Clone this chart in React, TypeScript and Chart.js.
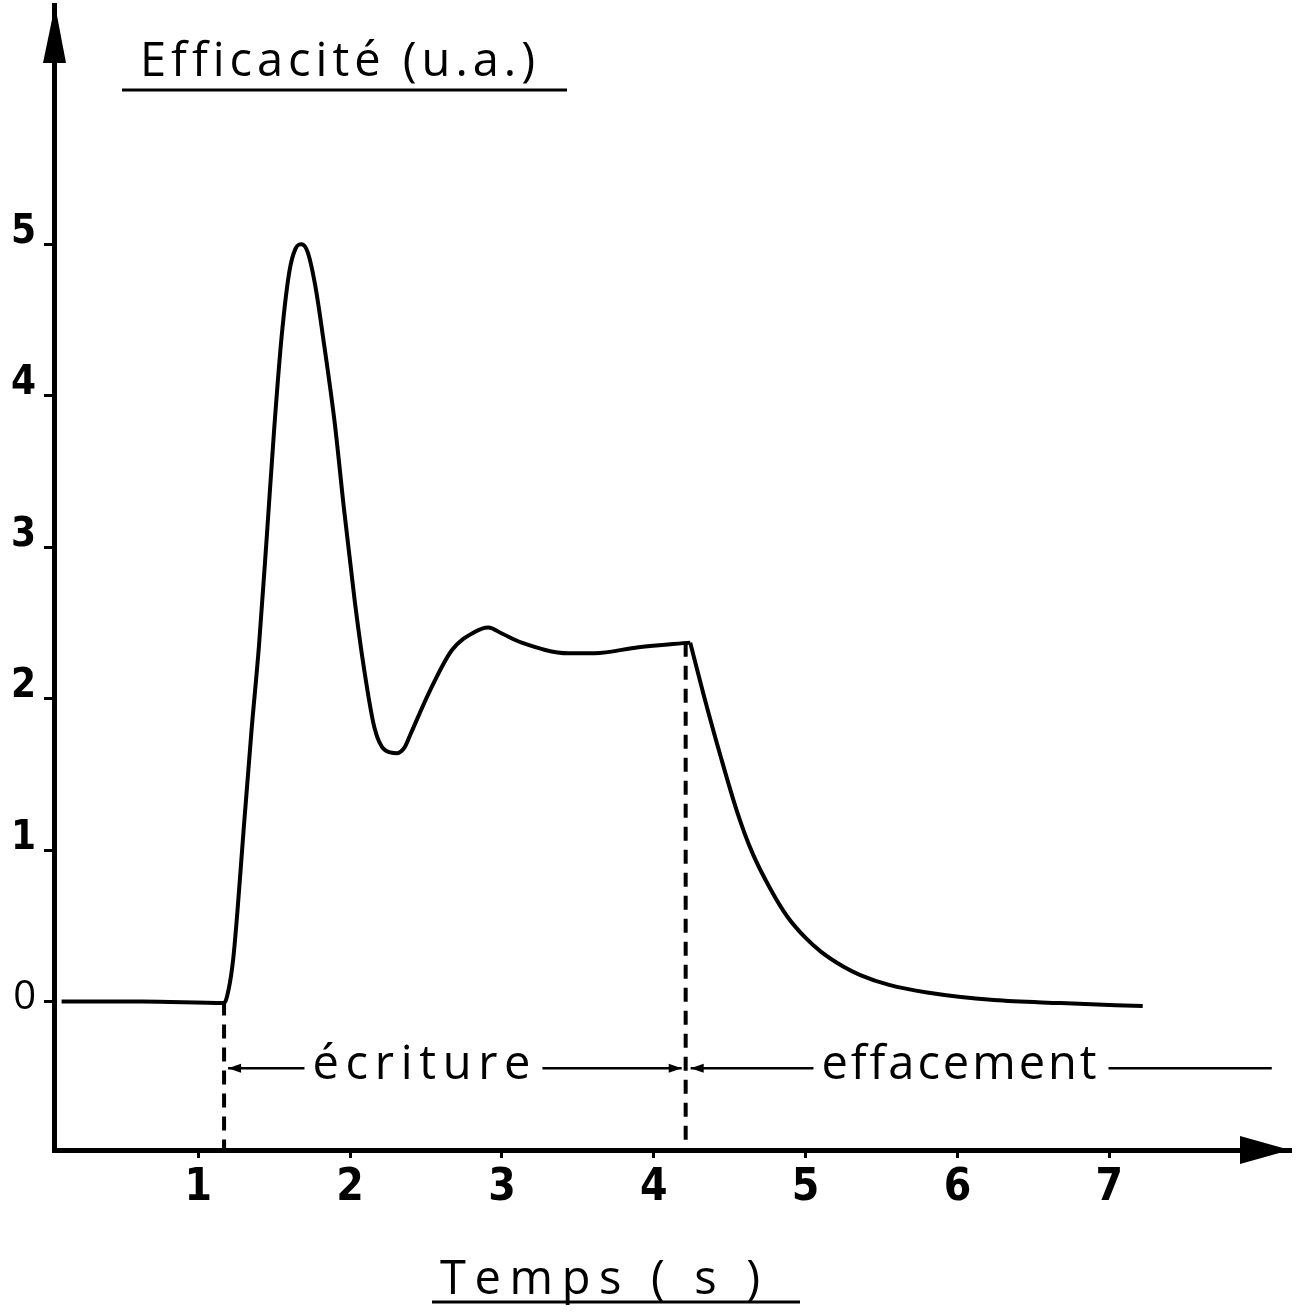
import React, { useEffect, useRef } from "react";
import { Chart, registerables } from "chart.js";

Chart.register(...registerables);

// ---- data (time in s, efficiency in arbitrary units) ----
const writeTimes = [0.10, 0.63, 1.17, 1.20, 1.23, 1.26, 1.30, 1.35, 1.40, 1.45, 1.50, 1.55, 1.60, 1.64, 1.68, 1.72, 1.77, 1.83, 1.90, 1.96, 2.03, 2.09, 2.16, 2.23, 2.31, 2.36, 2.40, 2.52, 2.67, 2.82, 2.91, 3.00, 3.13, 3.44, 3.61, 3.90, 4.24];
const writeValues = [0.00, 0.00, -0.01, 0.08, 0.28, 0.62, 1.15, 1.78, 2.35, 3.05, 3.78, 4.40, 4.82, 4.97, 5.00, 4.95, 4.73, 4.33, 3.81, 3.25, 2.65, 2.21, 1.81, 1.66, 1.64, 1.68, 1.77, 2.04, 2.32, 2.44, 2.47, 2.43, 2.37, 2.30, 2.30, 2.34, 2.37];
const eraseTimes = [4.24, 4.33, 4.44, 4.55, 4.65, 4.77, 4.88, 5.00, 5.10, 5.25, 5.36, 5.55, 5.80, 6.24, 6.68, 7.22];
const eraseValues = [2.37, 2.02, 1.62, 1.25, 0.98, 0.74, 0.56, 0.42, 0.33, 0.23, 0.175, 0.11, 0.06, 0.01, -0.01, -0.03];

const xTickValues = [1, 2, 3, 4, 5, 6, 7];
const yTickValues = [0, 1, 2, 3, 4, 5];

const phaseStarts = [1.17, 4.21];
const phaseStartLevels = [0, 2.37];
const phaseLabels = ["écriture", "effacement"];
const phaseLabelCenters = [2.47, 6.01];
const phaseEnd = 8.07;
const arrowLevel = -0.44;

const yTitle = "Efficacité (u.a.)";
const xTitle = "Temps ( s )";

const ink = "#000000";
const letterFont = '400 47px "Open Sans", "Liberation Sans", sans-serif';

function drawSpaced(ctx: CanvasRenderingContext2D, text: string, left: number, baseline: number, target: number, font: string) {
  ctx.font = font;
  (ctx as any).letterSpacing = "0px";
  const w0 = ctx.measureText(text).width;
  const n = Array.from(text).length;
  const s = (target - w0) / Math.max(1, n - 1);
  (ctx as any).letterSpacing = s + "px";
  ctx.textAlign = "left";
  ctx.textBaseline = "alphabetic";
  ctx.fillText(text, left, baseline);
  (ctx as any).letterSpacing = "0px";
}

function arrowHead(ctx: CanvasRenderingContext2D, x: number, y: number, dir: number) {
  ctx.beginPath();
  ctx.moveTo(x, y);
  ctx.lineTo(x - dir * 13, y - 4.5);
  ctx.lineTo(x - dir * 13, y + 4.5);
  ctx.closePath();
  ctx.fill();
}

const decorPlugin = {
  id: "decor",
  afterDraw(chart: any) {
    const { ctx, chartArea, scales } = chart;
    const xs = scales.x;
    const ys = scales.y;
    ctx.save();
    ctx.fillStyle = ink;
    ctx.strokeStyle = ink;

    // axis arrowheads
    const ax = chartArea.left;
    ctx.beginPath();
    ctx.moveTo(ax + 1, chartArea.top);
    ctx.lineTo(ax - 11, chartArea.top + 58);
    ctx.lineTo(ax + 12, chartArea.top + 58);
    ctx.closePath();
    ctx.fill();
    const by = chartArea.bottom;
    ctx.beginPath();
    ctx.moveTo(chartArea.right, by);
    ctx.lineTo(chartArea.right - 50, by - 14);
    ctx.lineTo(chartArea.right - 50, by + 14);
    ctx.closePath();
    ctx.fill();

    // dashed phase boundaries
    ctx.lineWidth = 4;
    ctx.setLineDash([14, 9]);
    phaseStarts.forEach((t, i) => {
      const px = xs.getPixelForValue(t);
      ctx.beginPath();
      ctx.moveTo(px, ys.getPixelForValue(phaseStartLevels[i]));
      ctx.lineTo(px, chartArea.bottom);
      ctx.stroke();
    });
    ctx.setLineDash([]);

    // phase arrows and labels
    const ay = ys.getPixelForValue(arrowLevel);
    const p0 = xs.getPixelForValue(phaseStarts[0]);
    const p1 = xs.getPixelForValue(phaseStarts[1]);
    const pEnd = xs.getPixelForValue(phaseEnd);
    const widths = [218, 275];
    ctx.fillStyle = ink;
    phaseLabels.forEach((label, i) => {
      const cx = xs.getPixelForValue(phaseLabelCenters[i]);
      const left = cx - widths[i] / 2;
      drawSpaced(ctx, label, left, ay + 11, widths[i], letterFont);
      const right = cx + widths[i] / 2;
      ctx.lineWidth = 2.5;
      const segStart = i === 0 ? p0 + 4 : p1 + 5;
      const segEnd = i === 0 ? p1 - 4 : pEnd;
      ctx.beginPath();
      ctx.moveTo(segStart, ay);
      ctx.lineTo(left - 8, ay);
      ctx.moveTo(right + 12, ay);
      ctx.lineTo(segEnd, ay);
      ctx.stroke();
      arrowHead(ctx, segStart, ay, -1);
      if (i === 0) arrowHead(ctx, segEnd, ay, 1);
    });

    // titles with underline
    drawSpaced(ctx, yTitle, 140, 76, 395, letterFont);
    drawSpaced(ctx, xTitle, 440, 1294, 320, letterFont);
    ctx.lineWidth = 3;
    ctx.beginPath();
    ctx.moveTo(122, 90);
    ctx.lineTo(567, 90);
    ctx.moveTo(432, 1302);
    ctx.lineTo(800, 1302);
    ctx.stroke();
    ctx.restore();
  },
};

const boldDigits = (size: number) => ({ family: '"Liberation Sans Narrow", "DejaVu Sans Condensed", sans-serif', size, weight: "bold" as const });

export default function App() {
  const ref = useRef<HTMLCanvasElement | null>(null);
  useEffect(() => {
    if (!ref.current) return;
    const chart = new Chart(ref.current, {
      type: "line",
      data: {
        datasets: [
          {
            label: "écriture",
            data: writeTimes.map((t, i) => ({ x: t, y: writeValues[i] })),
            borderColor: ink,
            borderWidth: 4,
            pointRadius: 0,
            cubicInterpolationMode: "monotone",
            fill: false,
          },
          {
            label: "effacement",
            data: eraseTimes.map((t, i) => ({ x: t, y: eraseValues[i] })),
            borderColor: ink,
            borderWidth: 4,
            pointRadius: 0,
            cubicInterpolationMode: "monotone",
            fill: false,
          },
        ],
      },
      options: {
        responsive: false,
        animation: false,
        layout: { padding: { left: 0, right: 8, top: 5, bottom: 84 } },
        plugins: { legend: { display: false }, tooltip: { enabled: false }, title: { display: false } },
        scales: {
          x: {
            type: "linear",
            min: 0.05,
            max: 8.19,
            afterFit: (s: any) => { s.height = 80; s.paddingLeft = 0; s.paddingRight = 0; },
            afterBuildTicks: (s: any) => { s.ticks = xTickValues.map((v) => ({ value: v })); },
            border: { display: true, color: ink, width: 5 },
            grid: { display: true, drawOnChartArea: false, drawTicks: true, tickLength: 8, color: ink, lineWidth: 3 },
            ticks: { color: ink, font: boldDigits(44), padding: 4, maxRotation: 0, autoSkip: false, callback: (v: any) => String(Math.round(Number(v))) },
          },
          y: {
            type: "linear",
            min: -0.98,
            max: 6.58,
            afterFit: (s: any) => { s.width = 54; s.paddingTop = 0; s.paddingBottom = 0; },
            afterBuildTicks: (s: any) => { s.ticks = yTickValues.map((v) => ({ value: v })); },
            border: { display: true, color: ink, width: 5 },
            grid: { display: true, drawOnChartArea: false, drawTicks: true, tickLength: 10, color: ink, lineWidth: 3 },
            ticks: {
              color: ink,
              padding: 8,
              labelOffset: -12,
              autoSkip: false,
              font: (c: any) => (c.tick && c.tick.value === 0 ? { family: '"Open Sans", "Liberation Sans", sans-serif', size: 40, weight: "400", lineHeight: 0.4 } : boldDigits(40)),
              callback: (v: any) => (Math.round(Number(v)) === 0 ? ["", "0"] : String(Math.round(Number(v)))),
            },
          },
        },
      },
      plugins: [decorPlugin],
    } as any);
    return () => chart.destroy();
  }, []);
  return (
    <div style={{ position: "absolute", left: 0, top: 0, width: 1298, height: 1314, background: "#fff" }}>
      <canvas ref={ref} width={1298} height={1314} style={{ display: "block", width: 1298, height: 1314 }} />
    </div>
  );
}
